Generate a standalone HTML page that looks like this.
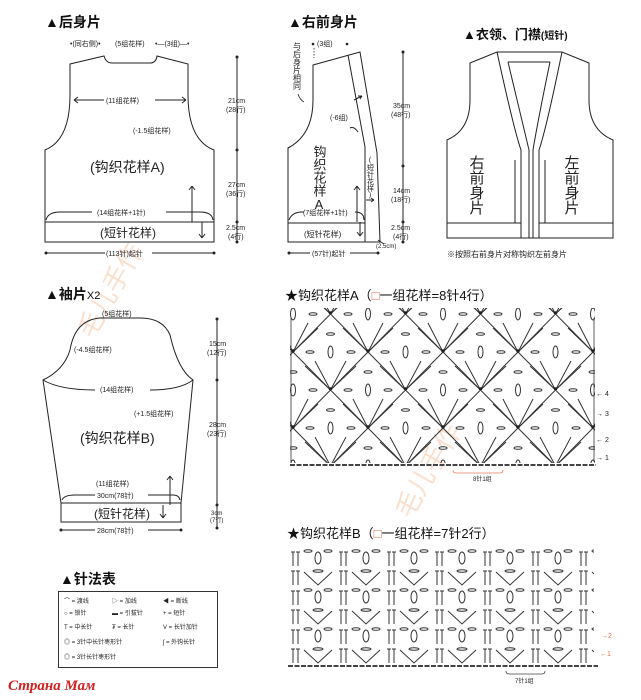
<!DOCTYPE html>
<html><head><meta charset="utf-8">
<style>
html,body{margin:0;padding:0;background:#fff;}
svg{display:block;}
text{font-family:"Liberation Sans","Noto Sans CJK SC",sans-serif;fill:#222;}
.s{font-size:7px;}
.m{font-size:8px;}
.t{font-size:14px;font-weight:bold;fill:#111;}
.b{font-size:14px;fill:#222;}
.v{writing-mode:vertical-rl;text-orientation:upright;}
</style></head><body>
<svg width="641" height="700" viewBox="0 0 641 700" xmlns="http://www.w3.org/2000/svg">
<defs>
<pattern id="pA" x="293" y="314" width="75" height="76" patternUnits="userSpaceOnUse">
 <g stroke="#333" stroke-width="1" fill="none">
  <path d="M37.5 76 L0 38 M37.5 76 L75 38 M0 38 L37.5 0 M75 38 L37.5 0"/>
  <path d="M37.5 76 L22 47 M37.5 76 L53 47 M37.5 76 L12 52 M37.5 76 L63 52"/>
  <path d="M0 38 L15 9 M0 38 L25 14 M75 38 L60 9 M75 38 L50 14"/>
  <ellipse cx="37.5" cy="38" rx="2.5" ry="6"/>
  <ellipse cx="0" cy="0" rx="2.5" ry="6"/><ellipse cx="75" cy="0" rx="2.5" ry="6"/>
  <ellipse cx="0" cy="76" rx="2.5" ry="6"/><ellipse cx="75" cy="76" rx="2.5" ry="6"/>
  <ellipse cx="17" cy="38" rx="4" ry="1.3"/><ellipse cx="58" cy="38" rx="4" ry="1.3"/>
  <ellipse cx="55" cy="76" rx="4" ry="1.3"/><ellipse cx="20" cy="76" rx="4" ry="1.3"/>
  <ellipse cx="55" cy="0" rx="4" ry="1.3"/><ellipse cx="20" cy="0" rx="4" ry="1.3"/>
  <ellipse cx="37.5" cy="20" rx="4" ry="1.3"/><ellipse cx="0" cy="58" rx="4" ry="1.3"/><ellipse cx="75" cy="58" rx="4" ry="1.3"/>
 </g>
 <circle cx="37.5" cy="75" r="1.7" fill="#222"/><circle cx="0" cy="37" r="1.7" fill="#222"/><circle cx="75" cy="37" r="1.7" fill="#222"/>
</pattern>
<pattern id="pB" x="290" y="548" width="48" height="39" patternUnits="userSpaceOnUse">
 <g stroke="#333" stroke-width="1" fill="none">
  <path d="M3 4 V18 M1 4 H5 M8 4 V18 M6 4 H10"/>
  <path d="M3 23 V37 M1 23 H5 M8 23 V37 M6 23 H10"/>
  <ellipse cx="18" cy="3" rx="4" ry="1.3"/><ellipse cx="38" cy="3" rx="4" ry="1.3"/>
  <ellipse cx="28" cy="10" rx="3" ry="6"/>
  <ellipse cx="28" cy="23" rx="5" ry="1.3"/>
  <path d="M14 24 L28 37 L42 24"/>
 </g>
</pattern>
</defs>

<g font-size="26" opacity="0.45">
 <text x="0" y="0" transform="translate(92,340) rotate(-60)" style="fill:#f3b890">毛儿手作</text>
 <text x="0" y="0" transform="translate(410,520) rotate(-60)" style="fill:#f3b890">毛儿手作</text>
</g>

<!-- back piece -->
<text x="45" y="27" class="t">▲后身片</text>
<text x="70" y="46" class="s">•(同右侧)•</text><text x="115" y="46" class="s">(5组花样)</text><text x="155" y="46" class="s">•—(3组)—•</text>
<g stroke="#222" stroke-width="1" fill="none">
 <path d="M70 64 L104 56 Q106 63 112 63 L150 63 Q156 63 157 56 L188 64 L188 95 Q188 140 214 150 L214 242 L45 242 L45 150 Q70 140 70 95 Z"/>
 <path d="M45 222 H214"/>
 <path d="M46 220 Q48 212 60 212 H92 M166 212 H200 Q212 212 213 220"/>
 <path d="M74 100 H104 M155 100 H186 M74 100 l4 -3 M74 100 l4 3 M186 100 l-4 -3 M186 100 l-4 3"/>
 <path d="M192 222 V186 M192 186 l-3 4 M192 186 l3 4 M202 222 V238 M202 238 l-3 -4 M202 238 l3 -4"/>
 <path d="M46 253 H105 M152 253 H214"/>
 <path d="M237 57 V242"/>
</g>
<g fill="#222"><circle cx="237" cy="57" r="1.5"/><circle cx="237" cy="150" r="1.5"/><circle cx="237" cy="222" r="1.5"/><circle cx="237" cy="242" r="1.5"/><circle cx="46" cy="253" r="1.5"/><circle cx="214" cy="253" r="1.5"/></g>
<text x="106" y="103" class="s">(11组花样)</text>
<text x="133" y="133" class="s">(-1.5组花样)</text>
<text x="90" y="172" class="b">(钩织花样A)</text>
<text x="97" y="215" class="s">(14组花样+1针)</text>
<text x="100" y="237" class="b" style="font-size:12px">(短针花样)</text>
<text x="106" y="256" class="s">(113针)起针</text>
<text x="228" y="103" class="s">21cm</text><text x="226" y="112" class="s">(28行)</text>
<text x="228" y="187" class="s">27cm</text><text x="226" y="196" class="s">(36行)</text>
<text x="226" y="230" class="s">2.5cm</text><text x="228" y="239" class="s">(4行)</text>

<!-- right front -->
<text x="288" y="27" class="t">▲右前身片</text>
<text x="297" y="42" class="v" style="font-size:8px">与后身片相同</text>
<path d="M298 94 q2 6 6 8" stroke="#222" fill="none" stroke-width="0.8"/>
<circle cx="313" cy="44" r="1.3" fill="#222"/><circle cx="347" cy="44" r="1.3" fill="#222"/>
<text x="317" y="46" class="s">(3组)</text>
<path d="M314 48 V58" stroke="#222" stroke-dasharray="1.5 1.5" stroke-width="0.8"/>
<g stroke="#222" stroke-width="1" fill="none">
 <path d="M313 65 L360 52 L377 153 L380 242 L288 242 L288 148 Q313 135 313 100 Z"/>
 <path d="M348 55 L365 147 L365 242"/>
 <path d="M288 223 H365"/>
 <path d="M289 220 Q292 212 302 212 H304 M355 212 Q364 212 364 220"/>
 <path d="M357 222 V186 M357 186 l-3 4 M357 186 l3 4 M360 222 V236 M360 236 l-3 -4 M360 236 l3 -4"/>
 <path d="M354 100 l8 -4 M362 96 l-4 0 M362 96 l-2 3"/>
 <path d="M366 200 l8 0 M374 200 l-3 -2 M374 200 l-3 2"/>
 <path d="M350 128 q4 -2 8 4"/>
 <path d="M289 253 H310 M350 253 H378"/>
 <path d="M403 52 V242"/>
 <path d="M378 240 L384 244"/>
</g>
<g fill="#222"><circle cx="403" cy="52" r="1.5"/><circle cx="403" cy="166" r="1.5"/><circle cx="403" cy="222" r="1.5"/><circle cx="403" cy="242" r="1.5"/><circle cx="289" cy="253" r="1.5"/><circle cx="378" cy="253" r="1.5"/></g>
<text x="319" y="145" class="b v" style="font-size:13px">钩织花样A</text>
<text x="330" y="120" class="s">(-6组)</text>
<text x="370" y="157" class="s v">(短针花样)</text>
<text x="303" y="215" class="s">(7组花样+1针)</text>
<text x="304" y="237" class="m">(短针花样)</text>
<text x="312" y="256" class="s">(57针)起针</text>
<text x="376" y="248" class="s" style="font-size:6px">(2.5cm)</text>
<text x="393" y="108" class="s">35cm</text><text x="391" y="117" class="s">(48行)</text>
<text x="393" y="193" class="s">14cm</text><text x="391" y="202" class="s">(18行)</text>
<text x="391" y="230" class="s">2.5cm</text><text x="393" y="239" class="s">(4行)</text>

<!-- collar -->
<text x="463" y="39" class="t" style="font-size:13px">▲衣领、门襟<tspan style="font-size:10px">(短针)</tspan></text>
<g stroke="#222" stroke-width="1" fill="none">
 <path d="M470 63 L497 52 H562 L589 63 L589 100 Q589 130 613 140 L613 238 L447 238 L447 140 Q470 130 470 100 Z"/>
 <path d="M508 62 H550"/>
 <path d="M497 52 Q514 130 521 150 L521 238 M508 62 Q522 120 529 150 L529 238"/>
 <path d="M562 52 Q546 130 539 150 L539 238 M550 62 Q538 120 533 150 L533 238"/>
 <path d="M447 223 H521 M539 223 H613"/>
 <path d="M515 223 V160 M545 223 V160"/>
</g>
<text x="476" y="155" class="b v" style="font-size:15px">右前身片</text>
<text x="571" y="155" class="b v" style="font-size:15px">左前身片</text>
<text x="447" y="257" class="m">※按照右前身片对称钩织左前身片</text>

<!-- sleeve -->
<text x="45" y="299" class="t">▲袖片<tspan style="font-size:11px;font-weight:normal">X2</tspan></text>
<text x="102" y="316" class="s">(5组花样)</text>
<g stroke="#222" stroke-width="1" fill="none">
 <path d="M43 380 Q64 370 70 350 Q75 320 100 318 H140 Q163 318 170 335 Q178 370 193 380 L181 503 L61 503 Z"/>
 <path d="M43 380 Q60 390 95 390 M150 390 Q180 390 193 380"/>
 <path d="M61 503 V522 H181 V503"/>
 <path d="M62 500 Q64 495 75 495 H95 M148 495 H173 Q179 495 180 500"/>
 <path d="M170 505 V476 M170 476 l-3 4 M170 476 l3 4 M163 505 V518 M163 518 l-3 -4 M163 518 l3 -4"/>
 <path d="M61 530 H95 M148 530 H181"/>
 <path d="M217 319 V528"/>
</g>
<g fill="#222"><circle cx="217" cy="319" r="1.5"/><circle cx="217" cy="380" r="1.5"/><circle cx="217" cy="505" r="1.5"/><circle cx="217" cy="528" r="1.5"/><circle cx="61" cy="530" r="1.5"/><circle cx="181" cy="530" r="1.5"/></g>
<text x="74" y="352" class="s">(-4.5组花样)</text>
<text x="100" y="392" class="s">(14组花样)</text>
<text x="134" y="416" class="s">(+1.5组花样)</text>
<text x="80" y="443" class="b">(钩织花样B)</text>
<text x="96" y="486" class="s">(11组花样)</text>
<text x="97" y="498" class="s">30cm(78针)</text>
<text x="94" y="518" class="b" style="font-size:12px">(短针花样)</text>
<text x="97" y="533" class="s">28cm(78针)</text>
<text x="209" y="346" class="s">15cm</text><text x="207" y="355" class="s">(12行)</text>
<text x="209" y="427" class="s">28cm</text><text x="207" y="436" class="s">(23行)</text>
<text x="211" y="515" class="s" style="font-size:6px">3cm</text><text x="210" y="522" class="s" style="font-size:6px">(7行)</text>

<!-- legend -->
<text x="60" y="584" class="t">▲针法表</text>
<rect x="58.5" y="591.5" width="159" height="76" fill="none" stroke="#333"/>
<g class="s" style="font-size:6px">
 <text x="64" y="603">⌒ = 渡线</text><text x="112" y="603">▷ = 加线</text><text x="163" y="603">◀ = 断线</text>
 <text x="64" y="615">○ = 锁针</text><text x="112" y="615">▬ = 引拔针</text><text x="163" y="615">+ = 短针</text>
 <text x="64" y="629">T = 中长针</text><text x="112" y="629">₮ = 长针</text><text x="163" y="629">V = 长针加针</text>
 <text x="64" y="644">◎ = 3针中长针枣形针</text><text x="163" y="644">ʃ = 外钩长针</text>
 <text x="64" y="659">◎ = 3针长针枣形针</text>
</g>
<text x="8" y="690" style="font-family:'Liberation Serif',serif;font-style:italic;font-size:15px;fill:#d02020;font-weight:bold">Страна Мам</text>

<!-- chart A -->
<text x="285" y="300" style="font-size:13px;fill:#111">★钩织花样A（<tspan style="fill:#e07050">□</tspan>一组花样=8针4行）</text>
<rect x="290" y="308" width="305" height="155" fill="url(#pA)"/>
<path d="M291 318 V462 M594 318 V462" stroke="#333" stroke-width="0.8"/>
<g stroke="#444" stroke-width="0.8" fill="none">
 <path d="M290 465 H596" stroke-dasharray="5 1.5" stroke-width="2"/>
 <path d="M453 470 q0 3 3 3 H500 q3 0 3 -3" stroke="#e08060"/>
</g>
<text x="473" y="481" class="s" style="font-size:6px">8针1组</text>
<g class="s" style="font-size:7px"><text x="596" y="396">← 4</text><text x="596" y="416">→ 3</text><text x="596" y="442">← 2</text><text x="596" y="460">→ 1</text></g>

<!-- chart B -->
<text x="287" y="538" style="font-size:13px;fill:#111">★钩织花样B（<tspan style="fill:#e07050">□</tspan>一组花样=7针2行）</text>
<rect x="288" y="548" width="306" height="117" fill="url(#pB)"/>
<path d="M288 666 H598" stroke="#444" stroke-dasharray="5 1.5" stroke-width="2"/>
<path d="M506 671 q0 3 3 3 H542 q3 0 3 -3" stroke="#444" fill="none" stroke-width="0.8"/>
<text x="515" y="683" class="s" style="font-size:6px">7针1组</text>
<g class="s" style="font-size:7px"><text x="601" y="638" style="fill:#e07050">→2</text><text x="600" y="656" style="fill:#e07050">←1</text></g>
</svg>
</body></html>
